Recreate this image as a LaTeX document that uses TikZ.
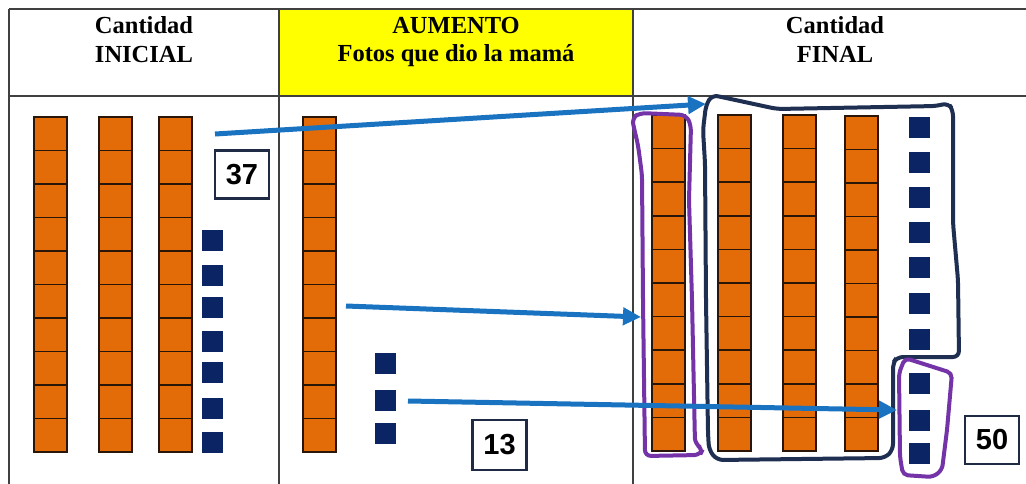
\documentclass[tikz,border=0pt]{standalone}
\usepackage{fontspec}
\setmainfont{Liberation Serif}
\newfontfamily\numfont{Liberation Sans}
\usetikzlibrary{arrows.meta}
\definecolor{cellorange}{HTML}{E36C09}
\definecolor{celledge}{HTML}{2A1608}
\definecolor{unitblue}{HTML}{0A2464}
\definecolor{arrowblue}{HTML}{1A73C0}
\definecolor{loopnavy}{HTML}{1E2F52}
\definecolor{looppurple}{HTML}{7434A8}
\definecolor{gridgray}{HTML}{404040}
\definecolor{hdryellow}{HTML}{FFFF00}
\definecolor{boxedge}{HTML}{1F2A44}
\newcommand\tenbar[3]{\foreach \k in {0,...,9}{\draw[cellbox] ({#1},{#2+\k*#3}) rectangle ++(33,#3);}}
\newcommand\unitsq[2]{\fill[unitblue] (#1,#2) rectangle ++(21,21);}
\begin{document}
\begin{tikzpicture}[x=1pt,y=-1pt,
  cellbox/.style={fill=cellorange,draw=celledge,line width=1.5pt},
  gridline/.style={draw=gridgray,line width=1.2pt},
  hdr/.style={anchor=base,font=\bfseries\fontsize{24.5}{28}\selectfont,inner sep=0pt},
  numbox/.style={draw=boxedge,line width=2.4pt,fill=white,minimum width=54pt,minimum height=48pt,inner sep=0pt,font=\numfont\bfseries\fontsize{29}{29}\selectfont},
  bluearrow/.style={draw=arrowblue,line width=5pt,-{Triangle[length=18pt,width=17pt]}},
  navyloop/.style={draw=loopnavy,line width=4pt,rounded corners=6pt},
  purpleloop/.style={draw=looppurple,line width=4pt,rounded corners=6pt}]
\useasboundingbox (0,0) rectangle (1026,483);
\fill[white] (0,0) rectangle (1026,483);
% header
\fill[hdryellow] (279,9) rectangle (633,96);
\draw[gridline] (9,9) -- (1030,9);
\draw[gridline] (9,96) -- (1030,96);
\draw[gridline] (9,9) -- (9,490);
\draw[gridline] (279,9) -- (279,490);
\draw[gridline] (633,9) -- (633,490);
\node[hdr] (h1a) at (144,33) {Cantidad};
\node[hdr] (h1b) at (144,62) {INICIAL};
\node[hdr] (h2a) at (456,33) {AUMENTO};
\node[hdr] (h2b) at (456,61) {Fotos que dio la mamá};
\node[hdr] (h3a) at (835,33) {Cantidad};
\node[hdr] (h3b) at (835,62) {FINAL};
% left column
\tenbar{34}{117}{33.5}
\tenbar{99}{117}{33.5}
\tenbar{159}{117}{33.5}
\foreach \y in {230,265,297,331,362,398,432}{\unitsq{202}{\y}}
\node[numbox] (n37) at (242,174.5) {37};
% middle column
\tenbar{303}{117}{33.5}
\foreach \y in {353,390,423}{\unitsq{375}{\y}}
\node[numbox,minimum height=50pt] (n13) at (499.5,445) {13};
% right column
\tenbar{652}{115}{33.6}
\tenbar{718}{115}{33.6}
\tenbar{783}{115}{33.6}
\tenbar{845}{116}{33.5}
\foreach \y in {117,152,187,222,257,293,329,373,410,443}{\unitsq{909}{\y}}
\node[numbox] (n50) at (992,440) {50};
% hand-drawn loops
\draw[purpleloop] (634,128) -- (632,118) -- (640,113) -- (686,115) -- (691,125) -- (689,200) -- (692,300) -- (695,444) -- (703,449) -- (700,455) -- (645,456) -- (643,300) -- (642,175) -- (638,145) -- cycle;
\draw[navyloop] (712,95) -- (740,101) -- (777,109) -- (937,106) -- (948,103) -- (953,110) -- (953,223) -- (958,280) -- (959,357) -- (897,357) -- (893,363) -- (893,450) -- (885,458) -- (717,460) -- (709,450) -- (708,433) -- (706,300) -- (705,163) -- (703,130) -- (706,105) -- cycle;
\draw[purpleloop,rounded corners=5pt] (905,358) -- (952,373) -- (947,430) -- (942,470) -- (933,477) -- (903,475) -- (900,457) -- (899,373) -- cycle;
% arrows
\coordinate (a1s) at (215,134);
\coordinate (a1e) at (706,104);
\coordinate (a2s) at (346,306);
\coordinate (a2e) at (641,317);
\coordinate (a3s) at (408,401);
\coordinate (a3e) at (897,410);
\draw[bluearrow] (a1s) -- (a1e);
\draw[bluearrow] (a2s) -- (a2e);
\draw[bluearrow] (a3s) -- (a3e);
\end{tikzpicture}
\end{document}
